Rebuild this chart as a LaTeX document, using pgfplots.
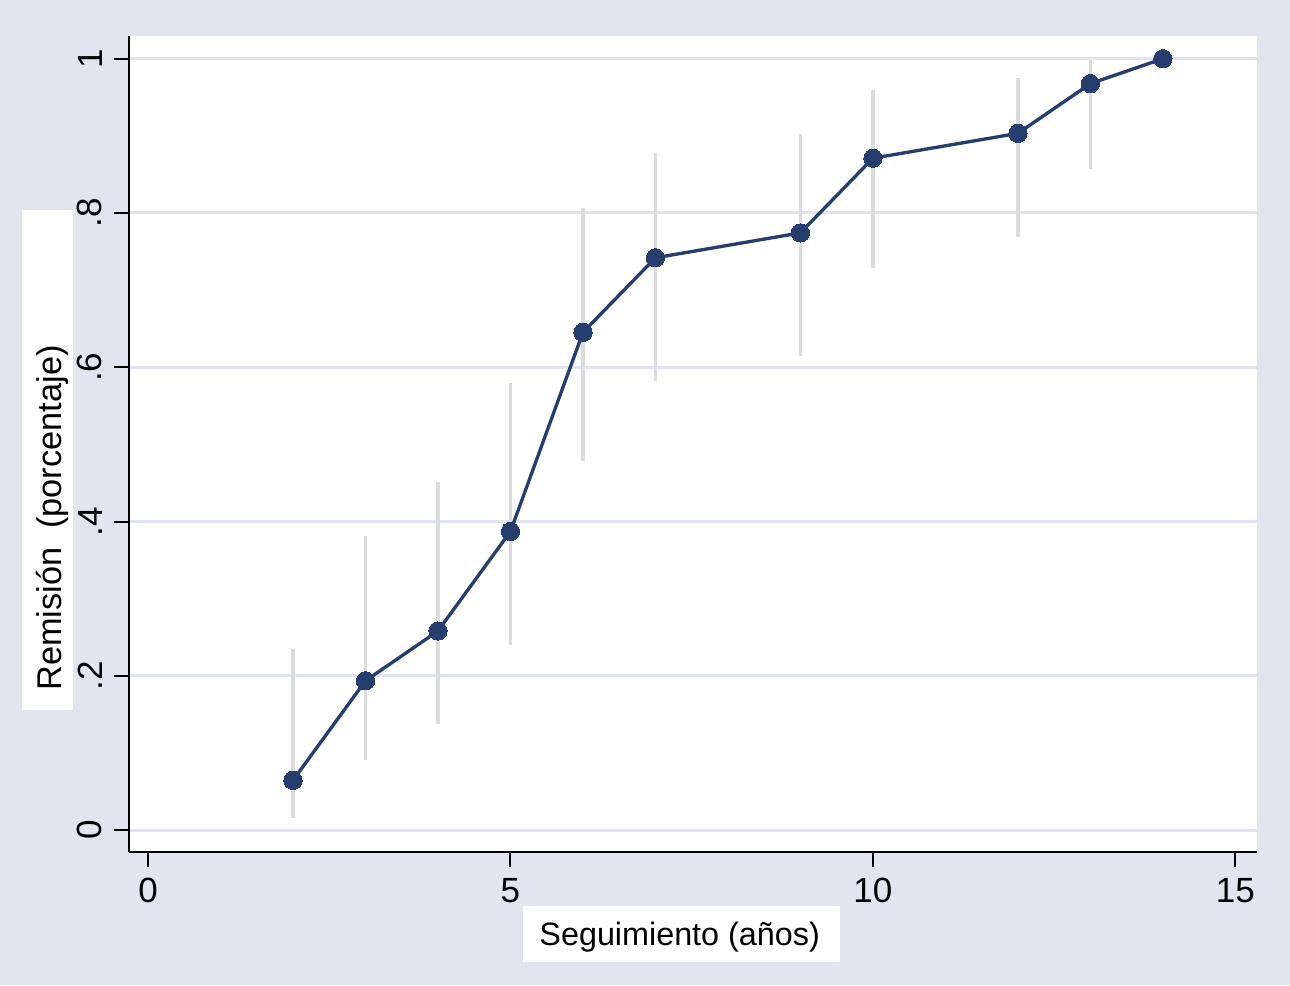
\documentclass[border=0pt]{standalone}
\usepackage{fontspec}
\setmainfont{Liberation Sans}
\usepackage{pgfplots}
\usepackage{pgfplotstable}
\pgfplotsset{compat=1.18}
\definecolor{bgc}{RGB}{225,229,240}
\definecolor{gridc}{RGB}{224,228,239}
\definecolor{navyc}{RGB}{37,62,110}
\definecolor{cic}{RGB}{220,220,220}
\pgfplotstableread{
x y lo hi
2 0.0645 0.0155 0.2345
3 0.1935 0.0907 0.381
4 0.2581 0.137 0.451
5 0.3871 0.240 0.580
6 0.6452 0.479 0.806
7 0.7419 0.582 0.878
9 0.7742 0.615 0.902
10 0.8710 0.729 0.959
12 0.9032 0.769 0.975
13 0.9677 0.857 0.998
}\ci
\pgfplotstableread{
x y
2 0.0645
3 0.1935
4 0.2581
5 0.3871
6 0.6452
7 0.7419
9 0.7742
10 0.8710
12 0.9032
13 0.9677
14 1.0
}\est
\begin{document}
\begin{tikzpicture}
\fill[bgc] (-38.7pt,-39.99pt) rectangle (348.3pt,255.51pt);
\begin{axis}[
  at={(0,0)}, anchor=south west,
  scale only axis,
  width=338.3pt, height=244.7pt,
  xmin=-0.2623, xmax=15.294,
  ymin=-0.0281, ymax=1.0294,
  axis x line=bottom, axis y line=left,
  axis line style={-, black, line width=0.6pt},
  axis background/.style={fill=white},
  xtick={0,5,10,15},
  ytick={0,0.2,0.4,0.6,0.8,1},
  yticklabels={0,.2,.4,.6,.8,1},
  xticklabels={0,5,10,15},
  tick align=outside,
  major tick length=4.5pt,
  tick style={black, line width=0.6pt},
  ymajorgrids,
  grid style={gridc, line width=0.9pt},
  ticklabel style={font=\fontsize{10.5pt}{12pt}\selectfont},
  yticklabel style={rotate=90, anchor=south},
  /pgf/number format/assume math mode=true,
  clip=false,
]
\addplot[draw=none, mark=none,
  error bars/.cd, y dir=both, y explicit,
  error mark=none,
  error bar style={cic, line width=1.1pt}]
  table[x=x, y=y, y error plus expr={\thisrow{hi}-\thisrow{y}}, y error minus expr={\thisrow{y}-\thisrow{lo}}] {\ci};
\addplot[navyc, line width=1.0pt, mark=*, mark size=2.75pt, mark options={fill=navyc, draw=navyc, line width=0pt}]
  table[x=x, y=y] {\est};
\end{axis}
\node[fill=white, minimum width=95.1pt, minimum height=16.8pt, inner sep=0pt] at (165.75pt,-24.69pt) {};
\node[font=\fontsize{9.7pt}{12pt}\selectfont] at (165.2pt,-25.6pt) {Seguimiento (años)};
\node[fill=white, minimum width=15.3pt, minimum height=150pt, inner sep=0pt] at (-24.45pt,117.5pt) {};
\node[rotate=90, font=\fontsize{10.3pt}{12pt}\selectfont] at (-23.1pt,100.1pt) {Remisión\ \ (porcentaje)};
\pgfresetboundingbox
\path (-38.7pt,-39.99pt) rectangle (348.3pt,255.51pt);
\end{tikzpicture}
\end{document}
